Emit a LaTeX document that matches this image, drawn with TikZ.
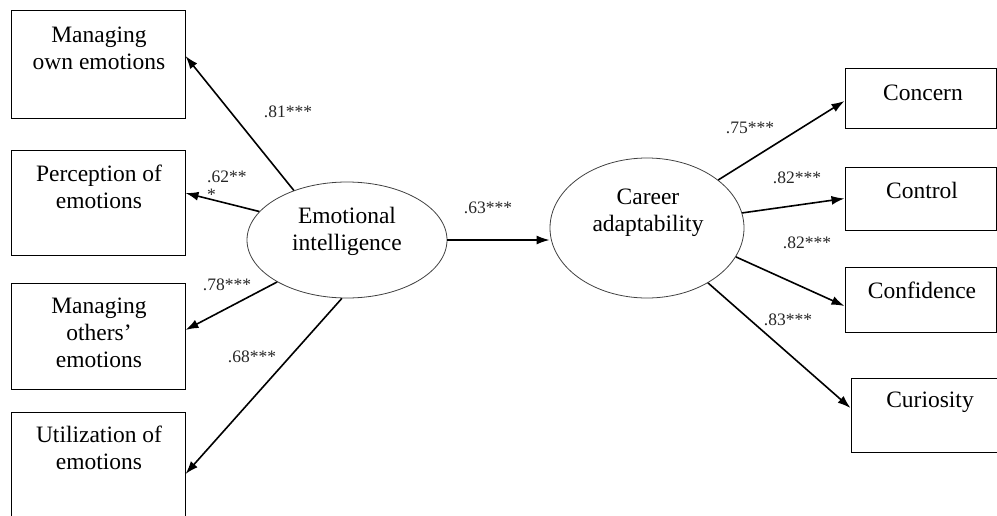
\documentclass[tikz,border=0pt]{standalone}
\usepackage{fontspec}
\setmainfont{Liberation Serif}
\usetikzlibrary{shapes.geometric,arrows.meta}
\begin{document}
\begin{tikzpicture}[x=1pt,y=-1pt,
  box/.style={draw=black,line width=1pt,rectangle,inner sep=0pt},
  latent/.style={draw=black!75,line width=0.8pt,ellipse,inner sep=0pt},
  txt/.style={font=\fontsize{23.5}{27}\selectfont,align=center,inner sep=0pt},
  coef/.style={font=\fontsize{17.5}{18}\selectfont,inner sep=0pt,text=black!85},
  arr/.style={line width=1.6pt,-{Latex[length=13pt,width=9pt]}}]
\useasboundingbox (0,0) rectangle (997,515);
\clip (0,0) rectangle (997,515);
% left boxes
\node[box,minimum width=174pt,minimum height=108pt] (b1) at (98,64) {};
\node[box,minimum width=174pt,minimum height=105pt] (b2) at (98,202.5) {};
\node[box,minimum width=174pt,minimum height=106pt] (b3) at (98,336) {};
\node[box,minimum width=174pt,minimum height=110pt] (b4) at (98,467) {};
\node[txt] (t1) at (99,48.5) {Managing\\own emotions};
\node[txt] (t2) at (99,186.5) {Perception of\\emotions};
\node[txt] (t3) at (99,332.5) {Managing\\others’\\emotions};
\node[txt] (t4) at (99,447.5) {Utilization of\\emotions};
% right boxes
\node[box,minimum width=151pt,minimum height=60pt] (r1) at (920.5,98) {};
\node[box,minimum width=151pt,minimum height=63pt] (r2) at (920.5,198.5) {};
\node[box,minimum width=151pt,minimum height=65pt] (r3) at (920.5,299.5) {};
\node[box,minimum width=146pt,minimum height=74pt] (r4) at (924,415) {};
\node[txt] (s1) at (923,93) {Concern};
\node[txt] (s2) at (922,190) {Control};
\node[txt] (s3) at (922,290) {Confidence};
\node[txt] (s4) at (930,402) {Curiosity};
% latent variables
\node[latent,minimum width=200pt,minimum height=116pt] (ei) at (347,240) {};
\node[txt] (eit) at (347,231) {Emotional\\intelligence};
\node[latent,minimum width=194pt,minimum height=140pt] (ca) at (647,228) {};
\node[txt] (cat) at (648,213) {Career\\adaptability};
% arrows
\draw[arr] (ei.137.7) -- ([yshift=8pt]b1.east);
\draw[arr] (ei.162.5) -- ([yshift=9.5pt]b2.east);
\draw[arr] (ei.211.6) -- ([yshift=6pt]b3.east);
\draw[arr] (ei.265) -- ([yshift=-7pt]b4.east);
\draw[arr] (ei.east) -- (ei.east -| ca.west);
\draw[arr] (ca.34) -- ([yshift=-3pt]r1.west);
\draw[arr] (ca.9.5) -- (r2.west);
\draw[arr] (ca.-18) -- ([yshift=-6.5pt]r3.west);
\draw[arr] (ca.-42) -- ([yshift=7pt]r4.west);
% coefficients
\node[coef] (c1) at (288,112) {.81***};
\node[coef,anchor=west,align=left] (c2) at (207,186) {.62**\\*};
\node[coef] (c3) at (227,285) {.78***};
\node[coef] (c4) at (252,357) {.68***};
\node[coef] (c5) at (488,208) {.63***};
\node[coef] (c6) at (750,128) {.75***};
\node[coef] (c7) at (797,178) {.82***};
\node[coef] (c8) at (807,243) {.82***};
\node[coef] (c9) at (788,320) {.83***};
\end{tikzpicture}
\end{document}
